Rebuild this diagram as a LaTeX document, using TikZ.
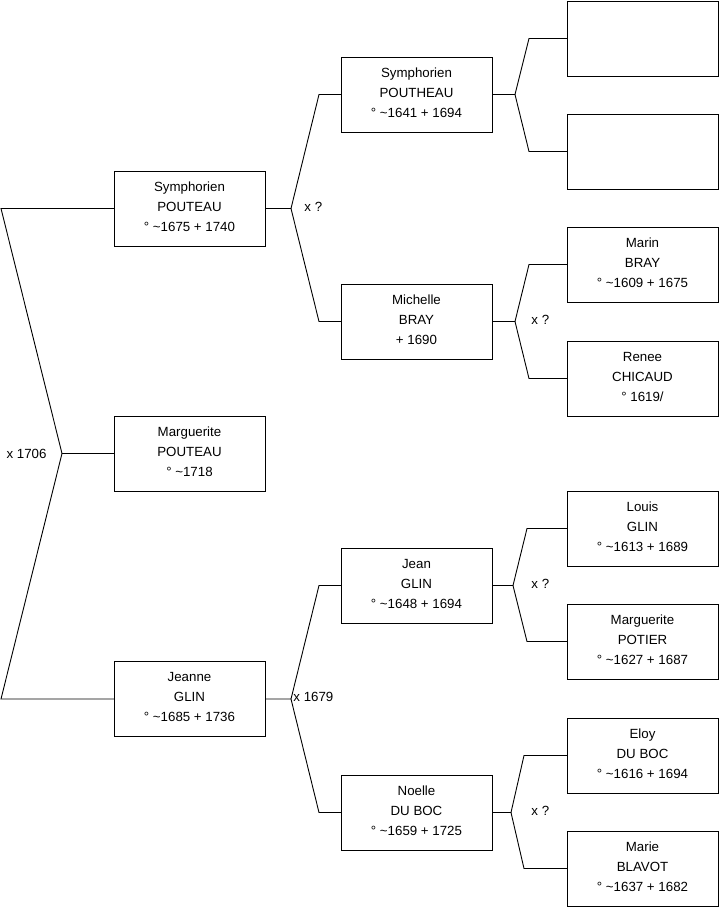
\documentclass[tikz,border=0pt]{standalone}
\usepackage{fontspec}
\setmainfont{Liberation Sans}
\usetikzlibrary{positioning}

\begin{document}
\begin{tikzpicture}[x=1pt,y=-1pt,line width=0.9pt,
  person/.style={draw,minimum width=151pt,minimum height=75pt,inner sep=0pt,outer sep=0pt,
                 align=center,text depth=4pt,font=\fontsize{13.3}{20}\selectfont},
  mariage/.style={inner sep=0pt,font=\fontsize{13.3}{16}\selectfont}]
\useasboundingbox (0,0) rectangle (719,908);
% generation 1
\node[person] (sp) at (189.5,208.5) {Symphorien\\POUTEAU\\° \textasciitilde1675 + 1740};
\node[person] (mp) at (189.5,453.5) {Marguerite\\POUTEAU\\° \textasciitilde1718};
\node[person] (jg) at (189.5,699) {Jeanne\\GLIN\\° \textasciitilde1685 + 1736};
% generation 2
\node[person] (spo) at (416.5,94.5) {Symphorien\\POUTHEAU\\° \textasciitilde1641 + 1694};
\node[person] (mb) at (416.5,321.5) {Michelle\\BRAY\\+ 1690};
\node[person] (jgl) at (416.5,585.5) {Jean\\GLIN\\° \textasciitilde1648 + 1694};
\node[person] (ndb) at (416.5,812.5) {Noelle\\DU BOC\\° \textasciitilde1659 + 1725};
% generation 3
\node[person] (e1) at (642.5,38.5) {};
\node[person] (e2) at (642.5,151.5) {};
\node[person] (mab) at (642.5,264.5) {Marin\\BRAY\\° \textasciitilde1609 + 1675};
\node[person] (rc) at (642.5,378.5) {Renee\\CHICAUD\\° 1619/};
\node[person] (lg) at (642.5,528.5) {Louis\\GLIN\\° \textasciitilde1613 + 1689};
\node[person] (mpo) at (642.5,641.5) {Marguerite\\POTIER\\° \textasciitilde1627 + 1687};
\node[person] (edb) at (642.5,755.5) {Eloy\\DU BOC\\° \textasciitilde1616 + 1694};
\node[person] (mbl) at (642.5,868.5) {Marie\\BLAVOT\\° \textasciitilde1637 + 1682};

% forks
\coordinate[left=52pt of mp.west] (f0);
\coordinate[right=26pt of sp.east] (f1);
\coordinate[right=26pt of jg.east] (f2);
\coordinate[right=23pt of spo.east] (f3);
\coordinate[right=23pt of mb.east] (f4);
\coordinate[right=21pt of jgl.east] (f5);
\coordinate[right=19pt of ndb.east] (f6);

\draw (mp.west) -- (f0) -- ([xshift=-113pt]sp.west) -- (sp.west);
\draw (f0) -- ([xshift=-113pt]jg.west) -- (jg.west);
\draw (sp.east) -- (f1) -- ([xshift=-22pt]spo.west) -- (spo.west);
\draw (f1) -- ([xshift=-22pt]mb.west) -- (mb.west);
\draw (jg.east) -- (f2) -- ([xshift=-22pt]jgl.west) -- (jgl.west);
\draw (f2) -- ([xshift=-22pt]ndb.west) -- (ndb.west);
\draw (spo.east) -- (f3) -- ([xshift=-38pt]e1.west) -- (e1.west);
\draw (f3) -- ([xshift=-38pt]e2.west) -- (e2.west);
\draw (mb.east) -- (f4) -- ([xshift=-38pt]mab.west) -- (mab.west);
\draw (f4) -- ([xshift=-38pt]rc.west) -- (rc.west);
\draw (jgl.east) -- (f5) -- ([xshift=-40pt]lg.west) -- (lg.west);
\draw (f5) -- ([xshift=-40pt]mpo.west) -- (mpo.west);
\draw (ndb.east) -- (f6) -- ([xshift=-43pt]edb.west) -- (edb.west);
\draw (f6) -- ([xshift=-43pt]mbl.west) -- (mbl.west);

% marriages
\node[mariage,left=15pt of f0] (m0) {x 1706};
\node[mariage,right=13pt of f1,yshift=1.5pt] (m1) {x ?};
\node[mariage,right=2pt of f2,yshift=2pt] (m2) {x 1679};
\node[mariage,right=16pt of f4,yshift=1.5pt] (m4) {x ?};
\node[mariage,right=18pt of f5,yshift=1.5pt] (m5) {x ?};
\node[mariage,right=20pt of f6,yshift=1.5pt] (m6) {x ?};
\end{tikzpicture}
\end{document}
